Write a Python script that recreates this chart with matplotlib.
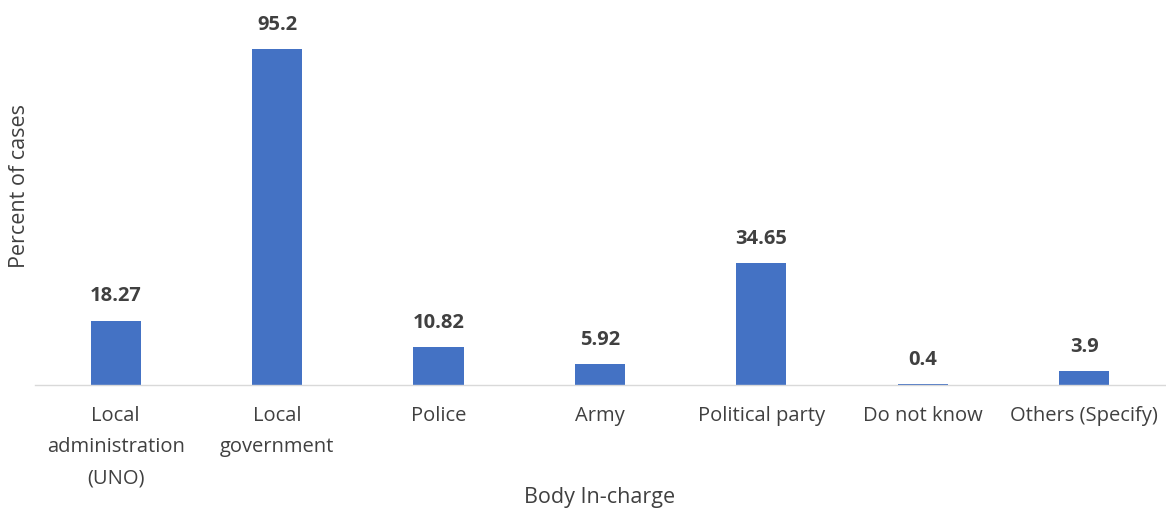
import matplotlib.pyplot as plt
import numpy as np

plt.rcParams['font.family'] = ['Open Sans', 'DejaVu Sans']

categories = ['Local\nadministration\n(UNO)', 'Local\ngovernment', 'Police', 'Army',
              'Political party', 'Do not know', 'Others (Specify)']
values = [18.27, 95.2, 10.82, 5.92, 34.65, 0.4, 3.9]
value_labels = ['18.27', '95.2', '10.82', '5.92', '34.65', '0.4', '3.9']

fig = plt.figure(figsize=(11.66, 5.08), dpi=100)
ax = fig.add_axes([0.030, 0.242, 0.969, 0.695])

x = np.arange(len(categories))
bars = ax.bar(x, values, width=0.31, color='#4472C4')
for xi, v, lab in zip(x, values, value_labels):
    ax.text(xi, v + 4, lab, ha='center', va='bottom', fontsize=14.5,
            fontweight='bold', color='#404040')

ax.set_xlim(-0.5, len(categories) - 0.5)
ax.set_ylim(0, 100)
ax.set_yticks([])
ax.set_xticks(x)
ax.set_xticklabels(categories, fontsize=14.5, color='#404040', linespacing=1.75, va='top')
ax.tick_params(axis='x', length=0, pad=15)
for s in ['top', 'left', 'right']:
    ax.spines[s].set_visible(False)
ax.spines['bottom'].set_color('#D9D9D9')
ax.spines['bottom'].set_linewidth(1)

ax.set_ylabel('Percent of cases', fontsize=15.5, color='#404040')
ax.yaxis.set_label_coords(-0.004, 0.565)
ax.set_xlabel('Body In-charge', fontsize=15.5, color='#404040')
ax.xaxis.set_label_coords(0.5, -0.29)

plt.savefig('out.png', dpi=100)
